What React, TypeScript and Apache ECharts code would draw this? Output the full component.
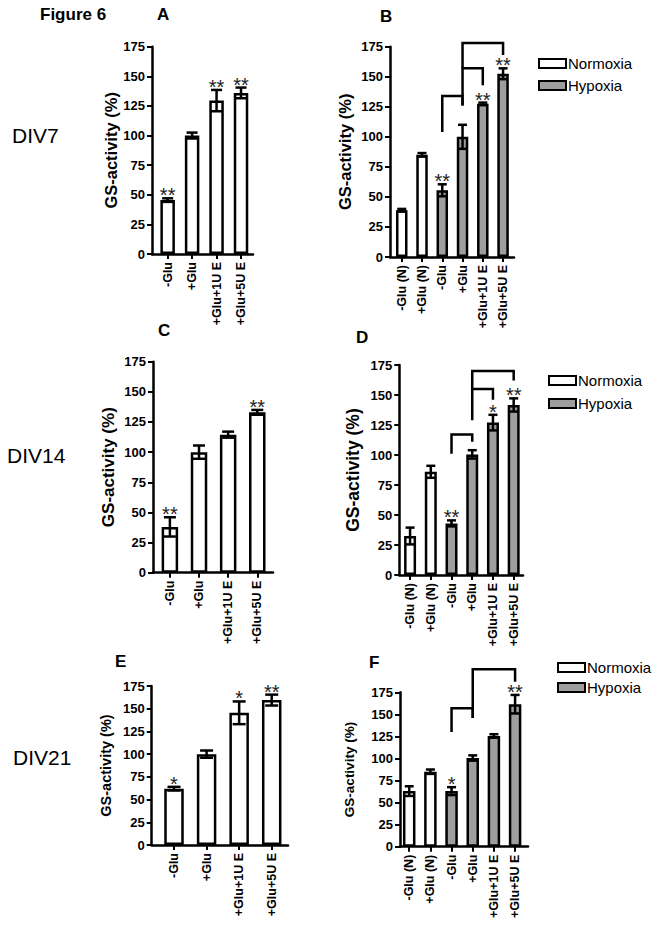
import { useEffect, useRef } from 'react';
import * as echarts from 'echarts';

// ---------- DATA ----------
const catsSingle = ['-Glu', '+Glu', '+Glu+1U E', '+Glu+5U E'];
const catsPaired = ['-Glu (N)', '+Glu (N)', '-Glu', '+Glu', '+Glu+1U E', '+Glu+5U E'];

// Panel A (DIV7)
const aValues = [45.5, 100, 129.5, 136];
const aErrors = [1.5, 2.5, 9, 4.5];
const aStars = ['**', '', '**', '**'];

// Panel B (DIV7, normoxia vs hypoxia)
const bNormoxia = [39, 85];
const bHypoxia = [55.5, 100, 127.5, 152.5];
const bErrors = [1, 1.5, 5, 10, 1, 4.5];
const bStars = ['', '', '**', '', '**', '**'];
const bBrackets = [
  [2, 3, 104, 134, 126],
  [3, 4, 126, 157, 143],
  [3, 5, 157, 178, 168],
];

// Panel C (DIV14)
const cValues = [38, 100, 114.5, 133];
const cErrors = [8, 5.5, 2.5, 2];
const cStars = ['**', '', '', '**'];

// Panel D (DIV14, normoxia vs hypoxia)
const dNormoxia = [32.5, 86];
const dHypoxia = [43, 100.5, 127, 141.7];
const dErrors = [7, 5, 2.5, 3.5, 6.5, 5.5];
const dStars = ['', '', '**', '', '*', '**'];
const dBrackets = [
  [2, 3, 101, 117, 111],
  [3, 4, 129, 155, 146],
  [3, 5, 155, 170, 162],
];

// Panel E (DIV21)
const eValues = [62, 100, 145.5, 159.5];
const eErrors = [2, 4, 12.5, 6];
const eStars = ['*', '', '*', '**'];

// Panel F (DIV21, normoxia vs hypoxia)
const fNormoxia = [63, 85];
const fHypoxia = [63, 100.5, 125.5, 161.5];
const fErrors = [5.5, 2.5, 4.5, 3, 2, 10.5];
const fStars = ['', '', '*', '', '', '**'];
const fBrackets = [
  [2, 3, 130, 157, 146],
  [3, 5, 146, 201, 187],
];

const yMin = 0;
const yMax = 175;
const yInterval = 25;
const yName = 'GS-activity (%)';

// ---------- LAYOUT / STYLE ----------
const FONT = '"Liberation Sans", Arial, sans-serif';
const GREY = '#9e9e9e';
const BW = 2.5;

type Panel = {
  grid: { left: number; top: number; width: number; height: number };
  xMin: number;
  xMax: number;
  barWidth: number;
  cap: number;
  nameSize: number;
  nameGap: number;
  cats: string[];
  single?: number[];
  normoxia?: number[];
  hypoxia?: number[];
  errors: number[];
  stars: string[];
  brackets?: number[][];
};

const panels: Panel[] = [
  { grid: { left: 152, top: 46.7, width: 101, height: 207.3 }, xMin: -0.64, xMax: 3.49, barWidth: 14.5, cap: 11, nameSize: 16.5, nameGap: 32,
    cats: catsSingle, single: aValues, errors: aErrors, stars: aStars },
  { grid: { left: 390, top: 46.7, width: 124, height: 210.3 }, xMin: -0.58, xMax: 5.54, barWidth: 11.5, cap: 9, nameSize: 16.5, nameGap: 37,
    cats: catsPaired, normoxia: bNormoxia, hypoxia: bHypoxia, errors: bErrors, stars: bStars, brackets: bBrackets },
  { grid: { left: 153, top: 361.7, width: 120, height: 211 }, xMin: -0.58, xMax: 3.54, barWidth: 16.5, cap: 12, nameSize: 17, nameGap: 36,
    cats: catsSingle, single: cValues, errors: cErrors, stars: cStars },
  { grid: { left: 399.3, top: 365, width: 123.7, height: 210 }, xMin: -0.52, xMax: 5.45, barWidth: 12, cap: 9, nameSize: 17.5, nameGap: 37,
    cats: catsPaired, normoxia: dNormoxia, hypoxia: dHypoxia, errors: dErrors, stars: dStars, brackets: dBrackets },
  { grid: { left: 151.7, top: 686, width: 136.3, height: 159 }, xMin: -0.685, xMax: 3.5, barWidth: 19.5, cap: 13, nameSize: 14.5, nameGap: 38,
    cats: catsSingle, single: eValues, errors: eErrors, stars: eStars },
  { grid: { left: 400, top: 692.3, width: 128, height: 154.4 }, xMin: -0.435, xMax: 5.61, barWidth: 12.5, cap: 9, nameSize: 13.5, nameGap: 44,
    cats: catsPaired, normoxia: fNormoxia, hypoxia: fHypoxia, errors: fErrors, stars: fStars, brackets: fBrackets },
];

function buildOption() {
  const grids: any[] = [];
  const xAxes: any[] = [];
  const yAxes: any[] = [];
  const series: any[] = [];

  panels.forEach((p, k) => {
    grids.push({ ...p.grid, containLabel: false });
    const idx = p.cats.map((_, i) => i);
    xAxes.push({
      type: 'value', gridIndex: k, min: p.xMin, max: p.xMax,
      axisLine: { show: true, onZero: false, lineStyle: { color: '#000', width: BW } },
      axisTick: { show: true, length: 5, inside: false, lineStyle: { color: '#000', width: 2 }, customValues: idx },
      axisLabel: {
        show: true, rotate: 90, margin: 8, customValues: idx,
        formatter: (v: number) => p.cats[Math.round(v)] ?? '',
        fontWeight: 'bold', fontSize: 12.5, color: '#000', fontFamily: FONT,
      },
      splitLine: { show: false },
    });
    yAxes.push({
      type: 'value', gridIndex: k, min: yMin, max: yMax, interval: yInterval,
      axisLine: { show: true, onZero: false, lineStyle: { color: '#000', width: BW } },
      axisTick: { show: true, length: 5, lineStyle: { color: '#000', width: 2 } },
      axisLabel: { margin: 7, fontWeight: 'bold', fontSize: 13, color: '#000', fontFamily: FONT },
      splitLine: { show: false },
      name: yName, nameLocation: 'middle', nameRotate: 90, nameGap: p.nameGap,
      nameTextStyle: { fontSize: p.nameSize, fontWeight: 'bold', color: '#000', fontFamily: FONT },
    });

    const barBase = {
      type: 'bar', xAxisIndex: k, yAxisIndex: k, barWidth: p.barWidth, barGap: '-100%', z: 2,
    };
    if (p.single) {
      series.push({
        ...barBase, name: 'Normoxia',
        data: p.single.map((v, i) => [i, v]),
        itemStyle: { color: '#fff', borderColor: '#000', borderWidth: BW },
      });
    } else {
      series.push({
        ...barBase, name: 'Normoxia',
        data: (p.normoxia as number[]).map((v, i) => [i, v]),
        itemStyle: { color: '#fff', borderColor: '#000', borderWidth: BW },
      });
      series.push({
        ...barBase, name: 'Hypoxia',
        data: (p.hypoxia as number[]).map((v, i) => [i + 2, v]),
        itemStyle: { color: GREY, borderColor: '#000', borderWidth: BW },
      });
    }
    const allVals = p.single ? p.single : [...(p.normoxia as number[]), ...(p.hypoxia as number[])];
    const stars = p.stars;
    const cap = p.cap;
    series.push({
      type: 'custom', xAxisIndex: k, yAxisIndex: k, z: 5, clip: false,
      data: allVals.map((v, i) => [i, v, p.errors[i]]),
      encode: { x: 0, y: 1 },
      renderItem: (params: any, api: any) => {
        const i = api.value(0), v = api.value(1), e = api.value(2);
        const top = api.coord([i, v + e]);
        const bot = api.coord([i, v - e]);
        const h = cap / 2;
        const style = { stroke: '#000', lineWidth: 2.5 };
        const children: any[] = [
          { type: 'line', shape: { x1: top[0], y1: top[1], x2: bot[0], y2: bot[1] }, style },
          { type: 'line', shape: { x1: top[0] - h, y1: top[1], x2: top[0] + h, y2: top[1] }, style },
          { type: 'line', shape: { x1: bot[0] - h, y1: bot[1], x2: bot[0] + h, y2: bot[1] }, style },
        ];
        const s = stars[params.dataIndex];
        if (s) {
          children.push({
            type: 'text', x: top[0], y: top[1] - 3,
            style: { text: s, fontSize: 20, fill: '#222', align: 'center', verticalAlign: 'middle', fontFamily: FONT },
          });
        }
        return { type: 'group', children };
      },
    });
    if (p.brackets) {
      series.push({
        type: 'custom', xAxisIndex: k, yAxisIndex: k, z: 6, clip: false,
        data: p.brackets,
        encode: { x: [0, 1], y: [2, 3, 4] },
        renderItem: (_params: any, api: any) => {
          const x1 = api.value(0), x2 = api.value(1);
          const yl = api.value(2), yt = api.value(3), yr = api.value(4);
          const pts = [api.coord([x1, yl]), api.coord([x1, yt]), api.coord([x2, yt]), api.coord([x2, yr])];
          return { type: 'polyline', shape: { points: pts }, style: { stroke: '#000', lineWidth: 2.5, fill: 'none' } };
        },
      });
    }
  });

  const legendBase = {
    orient: 'vertical', data: ['Normoxia', 'Hypoxia'], icon: 'rect',
    itemWidth: 27, itemHeight: 9, selectedMode: false,
    textStyle: { fontSize: 15, color: '#000', fontFamily: FONT, padding: [0, 0, 0, -3] },
  };
  const legends = [
    { ...legendBase, left: 533, top: 51, itemGap: 7 },
    { ...legendBase, left: 543, top: 368, itemGap: 8 },
    { ...legendBase, left: 552, top: 655, itemGap: 5 },
  ];

  const txt = (text: string, x: number, y: number, size: number, bold: boolean) => ({
    type: 'text', x, y,
    style: { text, fontSize: size, fontWeight: bold ? 'bold' : 'normal', fill: '#000', fontFamily: FONT, align: 'left', verticalAlign: 'middle' },
  });

  const graphic = [
    txt('Figure 6', 40, 14, 17, true),
    txt('A', 157, 14, 17, true),
    txt('B', 380, 16, 17, true),
    txt('C', 158, 330, 17, true),
    txt('D', 356, 337.5, 17, true),
    txt('E', 115, 661.5, 17, true),
    txt('F', 369, 662.5, 17, true),
    txt('DIV7', 12, 135, 21, false),
    txt('DIV14', 7, 455, 21, false),
    txt('DIV21', 13, 757, 21, false),
  ];

  return {
    animation: false,
    backgroundColor: '#fff',
    grid: grids,
    xAxis: xAxes,
    yAxis: yAxes,
    legend: legends,
    series,
    graphic,
  };
}

export default function App() {
  const ref = useRef<HTMLDivElement>(null);
  useEffect(() => {
    if (!ref.current) return;
    const chart = echarts.init(ref.current, undefined, { renderer: 'svg' });
    chart.setOption(buildOption() as any);
    return () => chart.dispose();
  }, []);
  return (
    <div
      ref={ref}
      style={{ position: 'absolute', left: 0, top: 0, width: 653, height: 929, background: '#fff' }}
    />
  );
}
